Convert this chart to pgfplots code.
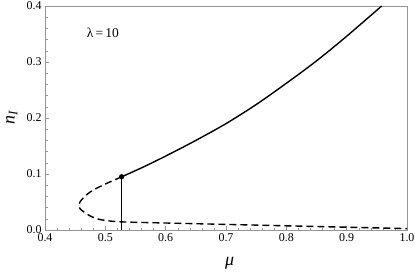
\documentclass[border=0pt]{standalone}
\usepackage{fontspec}
\setmainfont{Liberation Serif}
\usepackage{pgfplots}
\pgfplotsset{compat=1.18}
\definecolor{framegray}{RGB}{150,150,150}
\begin{document}
\begin{tikzpicture}
\begin{axis}[
    scale only axis,
    width=362bp, height=224bp,
    xmin=0.4, xmax=1.0, ymin=0, ymax=0.4,
    xtick={0.4,0.5,...,1.0},
    ytick={0,0.1,...,0.4},
    minor x tick num=4,
    minor y tick num=4,
    tick align=inside,
    xtick pos=bottom, ytick pos=left,
    major tick length=4bp, minor tick length=2.5bp,
    axis line style={framegray},
    every tick/.style={framegray},
    tick label style={font=\fontsize{12}{12}\selectfont},
    xticklabel={\pgfmathprintnumber[fixed,fixed zerofill,precision=1]{\tick}},
    yticklabel={\pgfmathprintnumber[fixed,fixed zerofill,precision=1]{\tick}},
    /pgf/number format/assume math mode=true,
    xlabel={\fontsize{18}{18}\selectfont\itshape μ},
    ylabel={\fontsize{18}{18}\selectfont\itshape n\raisebox{-0.35ex}{\fontsize{13}{13}\selectfont I}},
    xlabel style={at={(axis description cs:0.51,0)}, anchor=north, yshift=-24bp},
    ylabel style={at={(axis description cs:0,0.5)}, anchor=south, yshift=24bp},
    clip=false,
]
% stable branch
\addplot[black, line width=1.4pt, smooth] coordinates {
    (0.527,0.095) (0.56,0.111) (0.60,0.132) (0.65,0.160) (0.70,0.190)
    (0.75,0.224) (0.80,0.262) (0.85,0.302) (0.90,0.346) (0.958,0.400)
};
% unstable branch
\addplot[black, line width=1.4pt, smooth, dash pattern=on 7bp off 4bp] coordinates {
    (0.527,0.095) (0.508,0.086) (0.490,0.077) (0.475,0.068) (0.464,0.058)
    (0.458,0.050) (0.456,0.044) (0.458,0.038) (0.4635,0.033) (0.475,0.025)
    (0.490,0.019) (0.508,0.016) (0.527,0.0145) (0.56,0.0135) (0.60,0.0125)
    (0.70,0.010) (0.80,0.0075) (0.90,0.005) (1.00,0.0025)
};
% vertical line
\addplot[black, line width=1.4pt] coordinates {(0.527,0) (0.527,0.095)};
% bifurcation point
\addplot[only marks, mark=*, mark size=2.4bp, black] coordinates {(0.527,0.095)};
\node[font=\fontsize{13.5}{13.5}\selectfont] at (axis cs:0.496,0.352) {λ\,=\,10};
\end{axis}
\pgfresetboundingbox
\path (current axis.south west) ++(-45bp,-44bp) coordinate (bbsw);
\path (current axis.north east) ++(8bp,6bp) coordinate (bbne);
\path[use as bounding box] (bbsw) rectangle (bbne);
\end{tikzpicture}
\end{document}
